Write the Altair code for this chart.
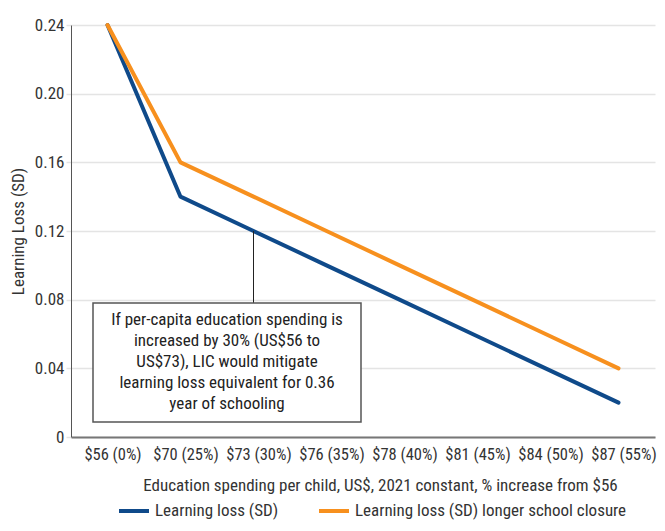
import altair as alt
import pandas as pd

categories = ["$56 (0%)", "$70 (25%)", "$73 (30%)", "$76 (35%)", "$78 (40%)",
              "$81 (45%)", "$84 (50%)", "$87 (55%)"]
loss_sd = [0.24, 0.14, 0.12, 0.10, 0.08, 0.06, 0.04, 0.02]
loss_longer = [0.24, 0.16, 0.14, 0.12, 0.10, 0.08, 0.06, 0.04]
series_names = ["Learning loss (SD)", "Learning loss (SD) longer school closure"]
colors = ["#0f4a8a", "#f7901e"]

note_text = ["If per-capita education spending is", "increased by 30% (US$56 to",
             "US$73), LIC would mitigate", "learning loss equivalent for 0.36",
             "year of schooling"]

rows = []
for c, v in zip(categories, loss_sd):
    rows.append({"cat": c, "val": v, "series": series_names[0]})
for c, v in zip(categories, loss_longer):
    rows.append({"cat": c, "val": v, "series": series_names[1]})
df = pd.DataFrame(rows)

FONT = "Roboto Condensed, Liberation Sans Narrow, Roboto, sans-serif"
FS = 17

x_enc = alt.X("cat:O", sort=categories,
              scale=alt.Scale(type="point", padding=0.5),
              axis=alt.Axis(title="Education spending per child, US$, 2021 constant, % increase from $56",
                            labelAngle=0, ticks=False, labelPadding=9, labelOffset=5,
                            domainColor="#777777", domainWidth=2,
                            titlePadding=15, titleFontWeight="normal", titleX=309,
                            titleFontSize=FS, labelFontSize=16.5,
                            labelColor="#333333", titleColor="#333333", grid=False))
y_enc = alt.Y("val:Q", scale=alt.Scale(domain=[0, 0.24]),
              axis=alt.Axis(title="Learning Loss (SD)", values=[0, 0.04, 0.08, 0.12, 0.16, 0.20, 0.24],
                            labelExpr="datum.value == 0 ? '0' : format(datum.value, '.2f')",
                            grid=True, gridColor="#e4e4e4", gridWidth=1.5,
                            tickColor="#e4e4e4", tickSize=5, tickWidth=1.5,
                            domainColor="#555555", domainWidth=1,
                            labelFontSize=FS, titleFontSize=FS, titleFontWeight="normal",
                            labelColor="#333333", titleColor="#333333", titlePadding=7))

lines = alt.Chart(df).mark_line(strokeWidth=4, strokeCap="round", strokeJoin="round").encode(
    x=x_enc, y=y_enc,
    color=alt.Color("series:N", sort=series_names,
                    scale=alt.Scale(domain=series_names, range=colors),
                    legend=alt.Legend(title=None, orient="none", legendX=46, legendY=469,
                                      direction="horizontal", symbolType="stroke",
                                      symbolSize=900, symbolStrokeWidth=4,
                                      labelFontSize=FS, labelColor="#333333",
                                      labelLimit=400, columnPadding=32, padding=0)),
)

rule_df = pd.DataFrame({"cat": [categories[2]], "val": [loss_sd[2]]})
rule = alt.Chart(rule_df).mark_rule(color="#222222", strokeWidth=1).encode(
    x=alt.X("cat:O", sort=categories), y="val:Q", y2=alt.value(278))

box = alt.Chart(rule_df).mark_rect(fill="white", stroke="#555555", strokeWidth=1.5).encode(
    x=alt.value(22), x2=alt.value(290), y=alt.value(278), y2=alt.value(397))

note_df = pd.DataFrame({"t": [note_text]})
note = alt.Chart(note_df).mark_text(fontSize=FS, lineHeight=21, align="center",
                                    baseline="top", color="#222222").encode(
    x=alt.value(156), y=alt.value(287), text="t")

chart = alt.layer(lines, rule, box, note).properties(
    width=584, height=412,
    autosize=alt.AutoSizeParams(type="none"),
    padding={"left": 63, "top": 17, "right": 2, "bottom": 86},
).configure(font=FONT).configure_view(stroke=None)

chart.save("out.html", embed_options={"renderer": "svg", "actions": False})
